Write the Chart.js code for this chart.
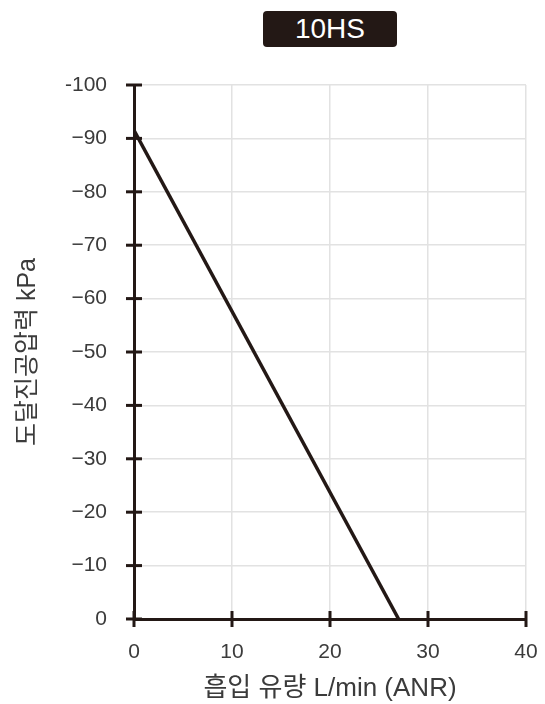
<!DOCTYPE html>
<html lang="ko">
<head>
    <meta charset="UTF-8">
    <title>10HS 흡입 유량 - 도달진공압력</title>
    <style>
        body {
            margin: 0;
            background: #fff;
            font-family: "Liberation Sans", "Noto Sans CJK KR", sans-serif;
        }
        .wrap {
            position: relative;
            width: 545px;
            height: 704px;
        }
        .badge {
            position: absolute;
            left: 263px;
            top: 11px;
            width: 134px;
            height: 36px;
            background: #231815;
            border-radius: 4px;
            color: #fff;
            font-size: 28px;
            line-height: 36px;
            text-align: center;
        }
        canvas {
            position: absolute;
            left: 0;
            top: 0;
        }
    </style>
    <script src="https://cdn.jsdelivr.net/npm/chart.js"></script>
</head>
<body>
    <div class="wrap">
        <canvas id="chart" width="545" height="704"></canvas>
        <div class="badge">10HS</div>
    </div>

    <script>
        // 데이터
        const flow = [0, 27];           // 흡입 유량 L/min
        const pressure = [-91.5, 0];    // 도달진공압력 kPa
        const xTicks = [0, 10, 20, 30, 40];
        const yTicks = [0, -10, -20, -30, -40, -50, -60, -70, -80, -90, -100];
        const yTickLabels = ['0', '\u221210', '\u221220', '\u221230', '\u221240', '\u221250',
                             '\u221260', '\u221270', '\u221280', '\u221290', '-100'];

        const dark = '#231815';
        const textColor = '#3b3b3b';
        const font = '"Liberation Sans", "Noto Sans CJK KR", sans-serif';

        // 축 위에 양쪽으로 튀어나온 눈금 표시
        const crossTicks = {
            id: 'crossTicks',
            afterDraw(chart) {
                const ctx = chart.ctx;
                const x = chart.scales.x, y = chart.scales.y;
                const a = chart.chartArea;
                ctx.save();
                ctx.strokeStyle = dark;
                ctx.lineWidth = 3;
                yTicks.forEach(v => {
                    const py = y.getPixelForValue(v);
                    ctx.beginPath();
                    ctx.moveTo(a.left - 8, py);
                    ctx.lineTo(a.left + 8, py);
                    ctx.stroke();
                });
                xTicks.forEach(v => {
                    const px = x.getPixelForValue(v);
                    ctx.beginPath();
                    ctx.moveTo(px, a.bottom - 8);
                    ctx.lineTo(px, a.bottom + 8);
                    ctx.stroke();
                });
                ctx.restore();
            }
        };

        new Chart(document.getElementById('chart'), {
            type: 'scatter',
            data: {
                datasets: [{
                    data: flow.map((f, i) => ({ x: f, y: pressure[i] })),
                    showLine: true,
                    borderColor: dark,
                    borderWidth: 3.5,
                    pointRadius: 0
                }]
            },
            options: {
                responsive: false,
                animation: false,
                layout: { padding: { top: 85, right: 19, left: 0, bottom: 0 } },
                plugins: { legend: { display: false }, tooltip: { enabled: false } },
                scales: {
                    x: {
                        type: 'linear',
                        min: 0,
                        max: 40,
                        afterBuildTicks: s => { s.ticks = xTicks.map(v => ({ value: v })); },
                        afterFit: s => { s.height = 85; s.paddingLeft = 0; s.paddingRight = 0; },
                        grid: { color: '#e2e2e2', lineWidth: 1.5, drawTicks: false },
                        border: { color: dark, width: 3 },
                        ticks: { color: textColor, font: { family: font, size: 21 }, padding: 21 },
                        title: {
                            display: true,
                            text: '흡입 유량 L/min (ANR)',
                            color: textColor,
                            font: { family: font, size: 26 },
                            padding: { top: 4, bottom: 0 }
                        }
                    },
                    y: {
                        type: 'linear',
                        reverse: true,
                        min: -100,
                        max: 0,
                        afterBuildTicks: s => { s.ticks = yTicks.map(v => ({ value: v })); },
                        afterFit: s => { s.width = 134; },
                        grid: { color: '#e2e2e2', lineWidth: 1.5, drawTicks: false },
                        border: { color: dark, width: 3 },
                        ticks: {
                            color: textColor,
                            font: { family: font, size: 21 },
                            padding: 27,
                            callback: (v) => yTickLabels[yTicks.indexOf(v)]
                        },
                        title: {
                            display: true,
                            text: '도달진공압력 kPa',
                            color: textColor,
                            font: { family: font, size: 25 },
                            padding: { top: 13, bottom: 0 }
                        }
                    }
                }
            },
            plugins: [crossTicks]
        });
    </script>
</body>
</html>
